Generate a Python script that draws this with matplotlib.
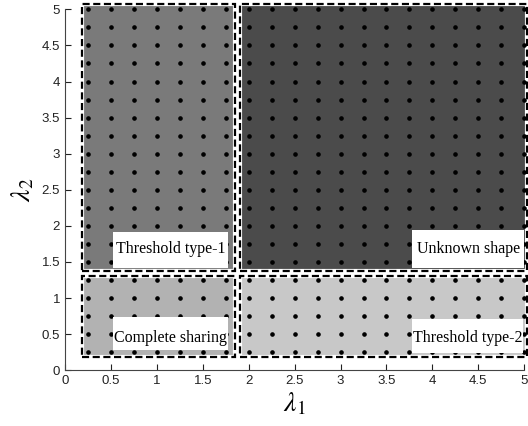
import matplotlib
matplotlib.use("Agg")
import matplotlib.pyplot as plt
from matplotlib.patches import Rectangle
import numpy as np

# grid of evaluated (lambda1, lambda2) points
grid_vals = [0.25, 0.5, 0.75, 1.0, 1.25, 1.5, 1.75, 2.0, 2.25, 2.5,
             2.75, 3.0, 3.25, 3.5, 3.75, 4.0, 4.25, 4.5, 4.75, 5.0]

# regions
region_names = ["Threshold type-1", "Unknown shape", "Complete sharing", "Threshold type-2"]
region_x0 = [0.19, 1.905, 0.19, 1.905]
region_x1 = [1.85, 5.03, 1.85, 5.03]
region_y0 = [1.38, 1.38, 0.18, 0.18]
region_y1 = [5.07, 5.07, 1.31, 1.31]
region_fill = ["#7a7a7a", "#4b4b4b", "#b2b2b2", "#c8c8c8"]

# label boxes (data coordinates)
box_x0 = [0.52, 3.78, 0.52, 3.78]
box_x1 = [1.78, 5.0, 1.78, 4.99]
box_y0 = [1.42, 1.42, 0.28, 0.24]
box_y1 = [1.92, 1.94, 0.74, 0.71]
label_x = [1.15, 4.39, 1.15, 4.385]
label_y = [1.68, 1.68, 0.44, 0.44]

xticks = [0, 0.5, 1, 1.5, 2, 2.5, 3, 3.5, 4, 4.5, 5]
xticklabels = ["0", "0.5", "1", "1.5", "2", "2.5", "3", "3.5", "4", "4.5", "5"]
yticks = xticks
yticklabels = xticklabels

plt.rcParams['mathtext.fontset'] = 'stix'
fig = plt.figure(figsize=(5.28, 4.26), dpi=100)
ax = fig.add_axes([0.123, 0.131, 0.870, 0.847])
ax.set_xlim(0, 5)
ax.set_ylim(0, 5)

for x0, x1, y0, y1, c in zip(region_x0, region_x1, region_y0, region_y1, region_fill):
    ax.add_patch(Rectangle((x0, y0), x1 - x0, y1 - y0, facecolor=c, edgecolor='white',
                           lw=3.0, clip_on=False, zorder=1))
    ax.add_patch(Rectangle((x0, y0), x1 - x0, y1 - y0, facecolor='none', edgecolor='black',
                           lw=1.6, linestyle=(0, (3.2, 1.6)), clip_on=False, zorder=3))

gx, gy = np.meshgrid(grid_vals, grid_vals)
ax.plot(gx.ravel(), gy.ravel(), 'o', color='black', markersize=2.3, zorder=2, clip_on=False)

for x0, x1, y0, y1 in zip(box_x0, box_x1, box_y0, box_y1):
    ax.add_patch(Rectangle((x0, y0), x1 - x0, y1 - y0, facecolor='white', edgecolor='none',
                           clip_on=False, zorder=4))

for name, lx, ly in zip(region_names, label_x, label_y):
    ax.text(lx, ly, name, ha='center', va='center', fontsize=11.5, family='Liberation Serif',
            zorder=5)

ax.set_xticks(xticks)
ax.set_xticklabels(xticklabels)
ax.set_yticks(yticks)
ax.set_yticklabels(yticklabels)
ax.tick_params(direction='in', length=4, labelsize=9.5, colors='#222222', width=0.8)
for lbl in ax.get_xticklabels() + ax.get_yticklabels():
    lbl.set_family('Liberation Sans')
for s in ['top', 'right']:
    ax.spines[s].set_visible(False)
for s in ['left', 'bottom']:
    ax.spines[s].set_color('#444444')
    ax.spines[s].set_linewidth(0.8)

ax.set_xlabel(r'$\lambda_1$', fontsize=20, labelpad=2)
ax.set_ylabel(r'$\lambda_2$', fontsize=20, labelpad=4)

fig.savefig('out.png', dpi=100)
